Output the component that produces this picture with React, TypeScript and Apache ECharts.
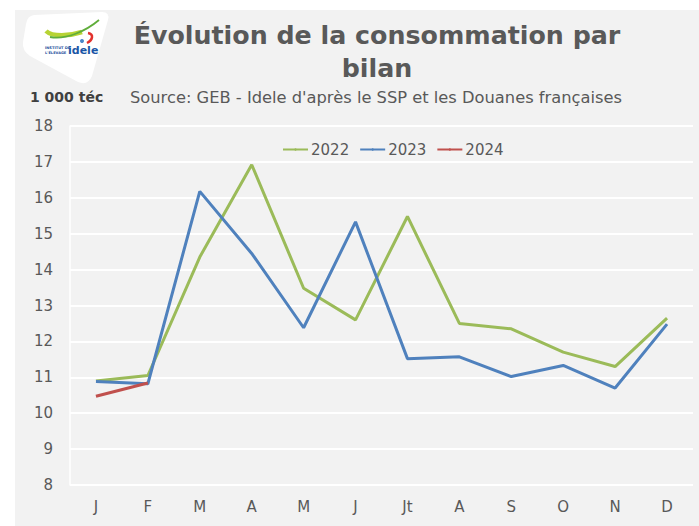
import React, { useEffect, useRef } from "react";
import * as echarts from "echarts";

const months = ["J", "F", "M", "A", "M", "J", "Jt", "A", "S", "O", "N", "D"];
const values2022 = [10.9, 11.05, 14.35, 16.92, 13.48, 12.6, 15.48, 12.5, 12.35, 11.7, 11.3, 12.65];
const values2023 = [10.88, 10.82, 16.18, 14.45, 12.38, 15.33, 11.52, 11.57, 11.02, 11.33, 10.7, 12.48];
const values2024 = [10.47, 10.84];
const yTicks = { min: 8, max: 18, interval: 1 };

const FONT = "DejaVu Sans";
const GRAY_TEXT = "#595959";

export default function App() {
  const ref = useRef<HTMLDivElement>(null);
  useEffect(() => {
    if (!ref.current) return;
    echarts.graphic.registerShape(
      "ideleShape",
      echarts.graphic.extendPath(
        "M 34 15 L 102 12 Q 110 12 108 20 L 92 76 Q 88 86 78 82 L 30 56 Q 22 51 23 42 L 26 24 Q 27 16 34 15 Z",
        {}
      )
    );
    const chart = echarts.init(ref.current, null, { renderer: "svg" });
    const mkSeries = (name: string, data: number[], color: string) => ({
      name,
      type: "line",
      data,
      symbol: "none",
      lineStyle: { color, width: 3 },
      itemStyle: { color },
    });
    chart.setOption({
      animation: false,
      backgroundColor: "#ffffff",
      textStyle: { fontFamily: FONT },
      graphic: [
        { type: "rect", shape: { x: 15, y: 10, width: 684, height: 516 }, style: { fill: "#f2f2f2" }, z: -10 },
        { type: "ideleShape", style: { fill: "#ffffff" }, z: -5 },
        {
          type: "bezierCurve",
          shape: { x1: 46, y1: 31, x2: 82, y2: 32, cpx1: 52, cpy1: 37, cpx2: 70, cpy2: 36 },
          style: { stroke: "#b7d334", lineWidth: 4.5, fill: null },
        },
        {
          type: "bezierCurve",
          shape: { x1: 50, y1: 37, x2: 99, y2: 20, cpx1: 66, cpy1: 40, cpx2: 86, cpy2: 31 },
          style: { stroke: "#5fad3a", lineWidth: 1.8, fill: null },
        },
        {
          type: "bezierCurve",
          shape: { x1: 88, y1: 33, x2: 87, y2: 43, cpx1: 94, cpy1: 34, cpx2: 93, cpy2: 40 },
          style: { stroke: "#e2312d", lineWidth: 2.5, fill: null },
        },
        { type: "circle", shape: { cx: 82, cy: 41, r: 2 }, style: { fill: "#4a86c8" } },
        {
          type: "text",
          x: 45,
          y: 48,
          style: { text: "INSTITUT DE", font: `bold 3.6px ${FONT}`, fill: "#1d4f9c", textVerticalAlign: "middle" },
        },
        {
          type: "text",
          x: 45,
          y: 53,
          style: { text: "L'ÉLEVAGE", font: `bold 3.6px ${FONT}`, fill: "#1d4f9c", textVerticalAlign: "middle" },
        },
        {
          type: "text",
          x: 68,
          y: 50,
          style: { text: "idele", font: `bold 11px ${FONT}`, fill: "#1b56a6", textVerticalAlign: "middle" },
        },
        {
          type: "text",
          x: 377,
          y: 35,
          style: {
            text: "Évolution de la consommation par",
            font: `bold 25.3px ${FONT}`,
            fill: GRAY_TEXT,
            textAlign: "center",
            textVerticalAlign: "middle",
          },
        },
        {
          type: "text",
          x: 377,
          y: 68,
          style: {
            text: "bilan",
            font: `bold 25.3px ${FONT}`,
            fill: GRAY_TEXT,
            textAlign: "center",
            textVerticalAlign: "middle",
          },
        },
        {
          type: "text",
          x: 30,
          y: 97,
          style: {
            text: "1 000 téc",
            font: `bold 14px ${FONT}`,
            fill: "#404040",
            textVerticalAlign: "middle",
          },
        },
        {
          type: "text",
          x: 130,
          y: 97,
          style: {
            text: "Source: GEB - Idele d'après le SSP et les Douanes françaises",
            font: `16.3px ${FONT}`,
            fill: GRAY_TEXT,
            textVerticalAlign: "middle",
          },
        },
      ],
      legend: {
        left: 277,
        top: 137,
        itemWidth: 25,
        itemHeight: 3,
        itemGap: 10,
        textStyle: { color: GRAY_TEXT, fontSize: 15, fontFamily: FONT, padding: [0, 0, 0, -2] },
        data: ["2022", "2023", "2024"],
      },
      grid: { left: 70, right: 6, top: 126, bottom: 41, containLabel: false },
      xAxis: {
        type: "category",
        data: months,
        boundaryGap: true,
        axisLine: { show: false },
        axisTick: { show: false },
        axisLabel: { color: GRAY_TEXT, fontSize: 15, fontFamily: FONT, margin: 14 },
      },
      yAxis: {
        type: "value",
        min: yTicks.min,
        max: yTicks.max,
        interval: yTicks.interval,
        axisLine: { show: true, lineStyle: { color: "#ffffff", width: 1.5 } },
        axisTick: { show: false },
        axisLabel: { color: GRAY_TEXT, fontSize: 15, fontFamily: FONT, margin: 17 },
        splitLine: { show: true, lineStyle: { color: "#ffffff", width: 2 } },
      },
      series: [
        mkSeries("2022", values2022, "#9bbb59"),
        mkSeries("2023", values2023, "#4f81bd"),
        mkSeries("2024", values2024, "#c0504d"),
      ],
    });
    return () => chart.dispose();
  }, []);
  return <div ref={ref} style={{ position: "fixed", left: 0, top: 0, width: 699, height: 526 }} />;
}
